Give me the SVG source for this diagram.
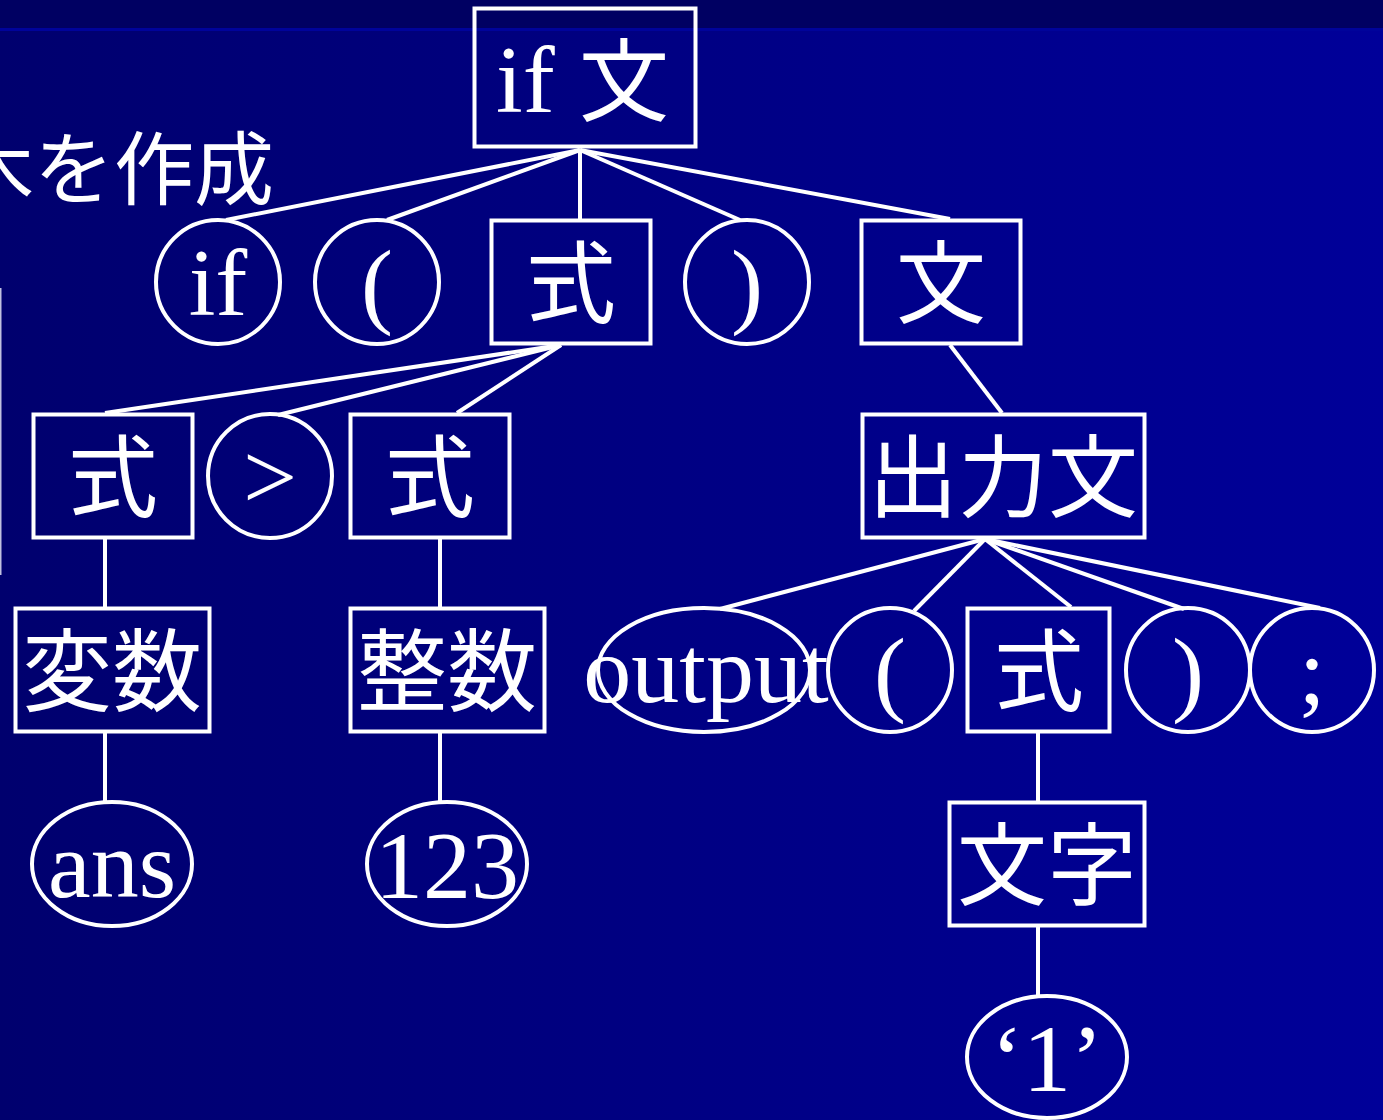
<svg xmlns="http://www.w3.org/2000/svg" width="1383" height="1120" viewBox="0 0 1383 1120">
<defs>
<linearGradient id="bg" x1="0" y1="0" x2="1" y2="0">
<stop offset="0" stop-color="#00006e"/>
<stop offset="1" stop-color="#000099"/>
</linearGradient>
<style>
.n{fill:none;stroke:#fff;stroke-width:4}
.c line{stroke:#fff;stroke-width:4}
.lat{font-family:"Liberation Serif","Times New Roman",serif;font-size:96px;fill:#fff;text-anchor:middle}
.cjk{font-family:"Noto Sans CJK JP","Noto Sans",sans-serif;font-size:90px;fill:#fff;text-anchor:middle}
</style>
</defs>
<rect x="0" y="0" width="1383" height="1120" fill="url(#bg)"/>
<rect x="0" y="0" width="1383" height="29" fill="#000062"/>
<rect x="0" y="28" width="1383" height="3" fill="#00039a"/>
<line x1="0.75" y1="288" x2="0.75" y2="575" stroke="#c0c0e0" stroke-width="1.5"/>
<text x="274" y="198" font-family="'Noto Sans CJK JP',sans-serif" font-size="80" fill="#fff" text-anchor="end">木を作成</text>

<g class="c" id="connectors">
<line x1="580" y1="150" x2="226" y2="220"/>
<line x1="580" y1="150" x2="387" y2="220"/>
<line x1="580" y1="150" x2="580" y2="219"/>
<line x1="580" y1="150" x2="740" y2="220"/>
<line x1="580" y1="150" x2="950" y2="219"/>
<line x1="561" y1="345" x2="105" y2="413"/>
<line x1="561" y1="345" x2="278" y2="415"/>
<line x1="561" y1="345" x2="457" y2="413"/>
<line x1="950" y1="345" x2="1002" y2="413"/>
<line x1="985" y1="539" x2="720" y2="609"/>
<line x1="985" y1="539" x2="914" y2="611"/>
<line x1="985" y1="539" x2="1071" y2="607"/>
<line x1="985" y1="539" x2="1184" y2="609"/>
<line x1="985" y1="539" x2="1320" y2="608"/>
<line x1="105" y1="539" x2="105" y2="607"/>
<line x1="440" y1="539" x2="440" y2="607"/>
<line x1="105" y1="733" x2="105" y2="802"/>
<line x1="440" y1="733" x2="440" y2="802"/>
<line x1="1038" y1="733" x2="1038" y2="801"/>
<line x1="1038" y1="927" x2="1038" y2="995"/>
</g>

<g id="n-ifbun"><rect class="n" x="474.5" y="8.5" width="221" height="138"/><text class="lat" x="496" y="112" style="text-anchor:start">if</text><text class="cjk" x="579" y="114" style="text-anchor:start">文</text></g>

<g id="n-if"><circle class="n" cx="218" cy="282" r="62"/><text class="lat" x="218" y="315">if</text></g>
<g id="n-lp1"><circle class="n" cx="377" cy="282" r="62"/><text class="lat" x="377" y="316">(</text></g>
<g id="n-shiki1"><rect class="n" x="491.5" y="220.5" width="159" height="123"/><text class="cjk" x="571" y="316">式</text></g>
<g id="n-rp1"><circle class="n" cx="747" cy="282" r="62"/><text class="lat" x="747" y="316">)</text></g>
<g id="n-bun"><rect class="n" x="861.5" y="220.5" width="159" height="123"/><text class="cjk" x="941" y="316">文</text></g>

<g id="n-shiki2"><rect class="n" x="33.5" y="414.5" width="159" height="123"/><text class="cjk" x="113" y="510">式</text></g>
<g id="n-gt"><circle class="n" cx="270" cy="476" r="62"/><text class="lat" x="270" y="509">&gt;</text></g>
<g id="n-shiki3"><rect class="n" x="350.5" y="414.5" width="159" height="123"/><text class="cjk" x="430" y="510">式</text></g>
<g id="n-shutsuryoku"><rect class="n" x="862.5" y="414.5" width="282" height="123"/><text class="cjk" x="1003" y="510">出力文</text></g>

<g id="n-hensu"><rect class="n" x="15.5" y="608.5" width="194" height="123"/><text class="cjk" x="112" y="704">変数</text></g>
<g id="n-seisu"><rect class="n" x="350.5" y="608.5" width="194" height="123"/><text class="cjk" x="447" y="704">整数</text></g>
<g id="n-output"><ellipse class="n" cx="704" cy="670" rx="106" ry="62"/><text class="lat" x="706" y="702">output</text></g>
<g id="n-lp2"><circle class="n" cx="890" cy="670" r="62"/><text class="lat" x="890" y="704">(</text></g>
<g id="n-shiki4"><rect class="n" x="967.5" y="608.5" width="142" height="123"/><text class="cjk" x="1039" y="704">式</text></g>
<g id="n-rp2"><circle class="n" cx="1188" cy="670" r="62"/><text class="lat" x="1188" y="704">)</text></g>
<g id="n-semi"><circle class="n" cx="1312" cy="670" r="62"/><text class="lat" x="1312" y="704">;</text></g>

<g id="n-ans"><ellipse class="n" cx="112" cy="864" rx="80" ry="62"/><text class="lat" x="112" y="897">ans</text></g>
<g id="n-123"><ellipse class="n" cx="447" cy="864" rx="80" ry="62"/><text class="lat" x="447" y="898">123</text></g>
<g id="n-moji"><rect class="n" x="949.5" y="802.5" width="195" height="123"/><text class="cjk" x="1047" y="898">文字</text></g>

<g id="n-one"><ellipse class="n" cx="1047" cy="1057" rx="80" ry="61"/><text class="lat" x="1047" y="1091">‘1’</text></g>
</svg>
